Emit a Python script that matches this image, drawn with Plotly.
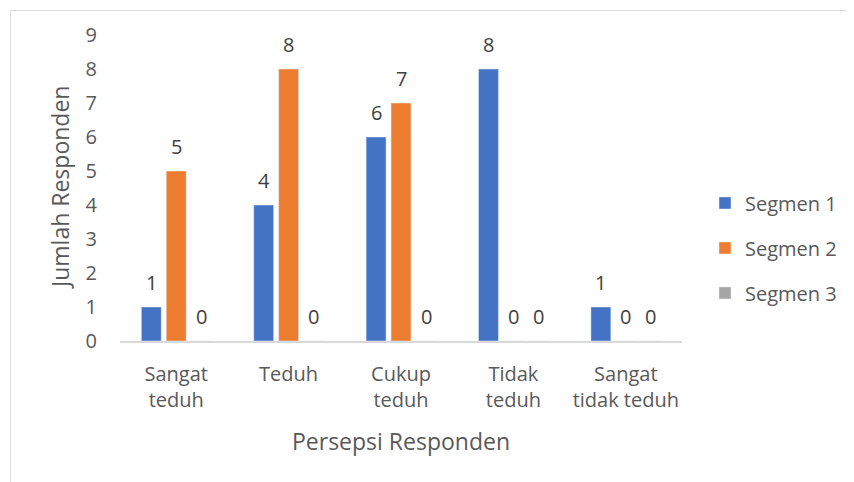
import plotly.graph_objects as go

categories = ["Sangat<br>teduh", "Teduh", "Cukup<br>teduh", "Tidak<br>teduh", "Sangat<br>tidak teduh"]
segmen1 = [1, 4, 6, 8, 1]
segmen2 = [5, 8, 7, 0, 0]
segmen3 = [0, 0, 0, 0, 0]
series_names = ["Segmen 1", "Segmen 2", "Segmen 3"]
colors = ["#4472C4", "#ED7D31", "#A5A5A5"]
y_ticks = list(range(0, 10))
x_title = "Persepsi Responden"
y_title = "Jumlah Responden"

FONT = "Open Sans"
GRAY = "#595959"

W, H = 846, 474
ML, MR, MT, MB = 112, 172, 27, 141
PW, PH = W - ML - MR, H - MT - MB

fig = go.Figure()
all_series = [segmen1, segmen2, segmen3]
for i, (name, vals) in enumerate(zip(series_names, all_series)):
    fig.add_trace(go.Bar(
        x=categories, y=vals, name=name, marker_color=colors[i],
        legendgroup=name,
    ))

# data labels
shifts = [-25, 0, 25]
annotations = []
for i, vals in enumerate(all_series):
    for c, v in zip(categories, vals):
        annotations.append(dict(
            x=c, y=v, xref="x", yref="y", text=str(v), showarrow=False,
            xshift=shifts[i], yshift=25, yanchor="middle",
            font=dict(family=FONT, size=20, color="#404040"),
        ))

# y-axis title as rotated text placed beside the tick labels
annotations.append(dict(
    x=(52 - ML) / PW, y=0.5, xref="paper", yref="paper",
    text=y_title, textangle=-90, showarrow=False,
    xanchor="center", yanchor="middle",
    font=dict(family=FONT, size=23, color=GRAY),
))

fig.update_layout(
    width=W, height=H,
    margin=dict(l=ML, r=MR, t=MT, b=MB),
    paper_bgcolor="white", plot_bgcolor="white",
    barmode="group", bargap=0.335, bargroupgap=0.2,
    font=dict(family=FONT, size=20, color=GRAY),
    annotations=annotations,
    showlegend=True,
    legend=dict(
        x=(697 - ML) / PW, y=0.304, xanchor="left", yanchor="middle",
        font=dict(family=FONT, size=20, color=GRAY),
        tracegroupgap=16, traceorder="grouped",
        bgcolor="rgba(0,0,0,0)",
    ),
    xaxis=dict(
        showgrid=False, showline=True, linecolor="#D9D9D9", linewidth=2,
        ticks="", ticklabelstandoff=14,
        tickfont=dict(family=FONT, size=20, color=GRAY),
        title=dict(text=x_title, standoff=22,
                   font=dict(family=FONT, size=23, color=GRAY)),
        automargin=False,
    ),
    yaxis=dict(
        range=[0, 9], tickvals=y_ticks, showgrid=False, showline=False,
        zeroline=False, ticks="", ticklabelstandoff=22,
        tickfont=dict(family=FONT, size=20, color=GRAY),
        automargin=False,
    ),
    shapes=[dict(
        type="rect", xref="paper", yref="paper",
        x0=(2.5 - ML) / PW, x1=1.5, y0=-1, y1=(MT + PH - 2.5) / PH,
        line=dict(color="#D9D9D9", width=1), fillcolor="rgba(0,0,0,0)",
        layer="below",
    )],
)

fig.write_html("out.html")
